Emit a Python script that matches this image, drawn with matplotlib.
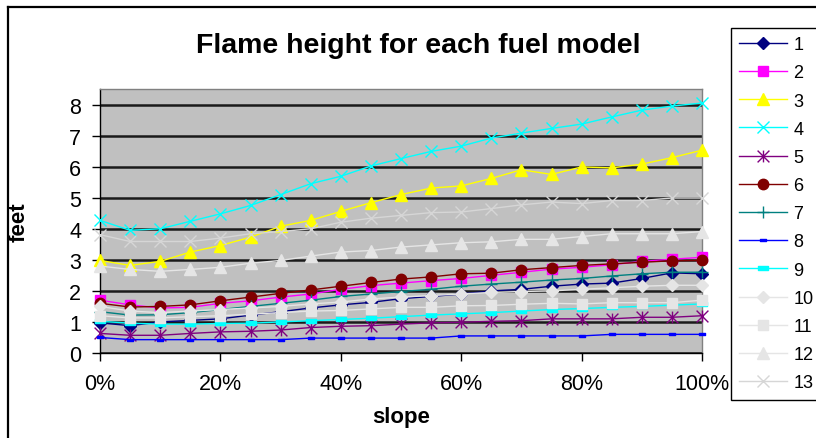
import matplotlib
matplotlib.use("Agg")
import matplotlib.pyplot as plt
from matplotlib.lines import Line2D
from matplotlib.path import Path
import numpy as np

plt.rcParams["font.family"] = ["Liberation Sans", "DejaVu Sans"]

# slope steps (percent)
slope_pct = list(range(0, 101, 5))
x_tick_values = [0, 20, 40, 60, 80, 100]
x_tick_labels = ["0%", "20%", "40%", "60%", "80%", "100%"]
y_ticks = [0, 1, 2, 3, 4, 5, 6, 7, 8]

# flame height (feet) for fuel models 1-13
fm1 = [0.97, 0.88, 1.00, 1.05, 1.10, 1.22, 1.33, 1.45, 1.55, 1.63, 1.75,
       1.82, 1.90, 2.00, 2.05, 2.15, 2.22, 2.25, 2.40, 2.58, 2.55]
fm2 = [1.70, 1.55, 1.45, 1.47, 1.60, 1.68, 1.80, 1.90, 2.05, 2.17, 2.25,
       2.33, 2.40, 2.50, 2.60, 2.70, 2.76, 2.84, 2.95, 3.02, 3.08]
fm3 = [2.98, 2.82, 2.95, 3.25, 3.46, 3.73, 4.08, 4.27, 4.56, 4.84, 5.10,
       5.31, 5.38, 5.62, 5.90, 5.75, 5.99, 5.96, 6.08, 6.29, 6.53]
fm4 = [4.27, 3.95, 4.00, 4.24, 4.48, 4.75, 5.10, 5.45, 5.69, 6.02, 6.26,
       6.49, 6.66, 6.92, 7.08, 7.23, 7.37, 7.60, 7.82, 7.95, 8.05]
fm5 = [0.63, 0.57, 0.57, 0.63, 0.68, 0.70, 0.74, 0.82, 0.86, 0.88, 0.93,
       0.97, 0.99, 1.02, 1.04, 1.10, 1.10, 1.10, 1.15, 1.15, 1.20]
fm6 = [1.60, 1.48, 1.50, 1.55, 1.68, 1.80, 1.92, 2.03, 2.15, 2.27, 2.38,
       2.45, 2.55, 2.57, 2.68, 2.75, 2.82, 2.87, 2.92, 2.97, 2.98]
fm7 = [1.33, 1.22, 1.23, 1.30, 1.40, 1.50, 1.60, 1.70, 1.82, 1.90, 1.98,
       2.05, 2.15, 2.22, 2.28, 2.35, 2.40, 2.48, 2.55, 2.60, 2.60]
fm8 = [0.50, 0.43, 0.43, 0.43, 0.43, 0.43, 0.43, 0.48, 0.48, 0.48, 0.48,
       0.48, 0.55, 0.55, 0.55, 0.55, 0.55, 0.60, 0.60, 0.60, 0.60]
fm9 = [1.02, 0.96, 0.93, 0.93, 0.95, 0.96, 1.00, 1.04, 1.08, 1.12, 1.17,
       1.22, 1.26, 1.30, 1.35, 1.40, 1.43, 1.47, 1.50, 1.54, 1.58]
fm10 = [1.50, 1.35, 1.30, 1.35, 1.40, 1.45, 1.50, 1.58, 1.64, 1.74, 1.80,
        1.85, 1.90, 1.95, 1.98, 2.00, 2.05, 2.10, 2.15, 2.18, 2.18]
fm11 = [1.20, 1.13, 1.13, 1.17, 1.20, 1.25, 1.30, 1.35, 1.37, 1.42, 1.47,
        1.47, 1.52, 1.53, 1.57, 1.60, 1.58, 1.62, 1.62, 1.62, 1.70]
fm12 = [2.80, 2.69, 2.63, 2.69, 2.76, 2.89, 2.98, 3.12, 3.25, 3.30, 3.41,
        3.48, 3.55, 3.58, 3.66, 3.66, 3.75, 3.84, 3.84, 3.84, 3.91]
fm13 = [3.81, 3.59, 3.59, 3.59, 3.70, 3.84, 3.91, 4.00, 4.21, 4.34, 4.43,
        4.52, 4.54, 4.65, 4.77, 4.86, 4.81, 4.91, 4.91, 4.99, 4.99]

series_names = ["1", "2", "3", "4", "5", "6", "7", "8", "9", "10", "11", "12", "13"]
series_values = [fm1, fm2, fm3, fm4, fm5, fm6, fm7, fm8, fm9, fm10, fm11, fm12, fm13]

# marker shapes
star = Path([(0, -1), (0, 1), (-1, -1), (1, 1), (-1, 1), (1, -1)],
            [Path.MOVETO, Path.LINETO, Path.MOVETO, Path.LINETO, Path.MOVETO, Path.LINETO])
bar = Path([(-1, -0.45), (1, -0.45), (1, 0.45), (-1, 0.45), (-1, -0.45)],
           [Path.MOVETO, Path.LINETO, Path.LINETO, Path.LINETO, Path.CLOSEPOLY])

styles = [
    dict(color="#000080", marker="D", ms=6.0),
    dict(color="#FF00FF", marker="s", ms=6.5),
    dict(color="#FFFF00", marker="^", ms=9.0),
    dict(color="#00FFFF", marker="x", ms=8.0, mew=1.0),
    dict(color="#800080", marker=star, ms=8.5, mew=1.0),
    dict(color="#800000", marker="o", ms=7.5),
    dict(color="#008080", marker="+", ms=8.0, mew=1.0),
    dict(color="#0000FF", marker=bar, ms=4.5),
    dict(color="#00FFFF", marker=bar, ms=6.5),
    dict(color="#E5E5E5", marker="D", ms=6.0),
    dict(color="#E5E5E5", marker="s", ms=6.5),
    dict(color="#E5E5E5", marker="^", ms=9.0),
    dict(color="#D6D6D6", marker="x", ms=8.0, mew=1.0),
]

W, H = 816, 439
fig = plt.figure(figsize=(W / 100, H / 100), dpi=100)
fig.patch.set_facecolor("white")

ax = fig.add_axes([100 / W, 1 - 354 / H, 602 / W, 264 / H])
ax.set_facecolor("#C0C0C0")

x = np.array(slope_pct) / 100.0
for i, (name, vals, st) in enumerate(zip(series_names, series_values, styles)):
    st = dict(st)
    c = st.pop("color")
    ax.plot(x, vals, color=c, mfc=c, mec=c, lw=1.0, label=name,
            clip_on=False, zorder=3 + i, **st)

ax.set_xlim(0, 1)
ax.set_ylim(0, 8.5)
ax.set_xticks(np.array(x_tick_values) / 100.0)
ax.set_xticklabels(x_tick_labels)
ax.set_yticks(y_ticks)
ax.set_yticklabels([str(v) for v in y_ticks])
ax.yaxis.grid(True, color="#1a1a1a", lw=1.8)
ax.set_axisbelow(True)

for side in ("top", "right"):
    ax.spines[side].set_color("#808080")
    ax.spines[side].set_linewidth(1.0)
for side in ("left", "bottom"):
    ax.spines[side].set_color("black")
    ax.spines[side].set_linewidth(1.0)

ax.tick_params(axis="both", direction="out", length=5.5, width=1.0,
               labelsize=15.5, color="black")
ax.tick_params(axis="x", pad=9)
ax.tick_params(axis="y", pad=8)

fig.text(418 / W, 1 - 46 / H, "Flame height for each fuel model",
         ha="center", va="center", fontsize=20.5, fontweight="bold")
fig.text(401 / W, 1 - 418 / H, "slope", ha="center", va="center",
         fontsize=16, fontweight="bold")
fig.text(19 / W, 1 - 222 / H, "feet", ha="center", va="center",
         rotation=90, fontsize=16, fontweight="bold")

handles, labels = ax.get_legend_handles_labels()
leg = fig.legend(handles, labels, loc="upper left",
                 bbox_to_anchor=(731 / W, 1 - 29 / H), frameon=True,
                 fancybox=False, edgecolor="black", framealpha=1,
                 fontsize=13, handlelength=2.65, handletextpad=0.35,
                 labelspacing=0.62, borderpad=0.45, borderaxespad=0,
                 numpoints=1)
leg.get_frame().set_linewidth(1.0)

# chart area border
fig.add_artist(Line2D([8 / W, 8 / W], [1 - 8 / H, -0.05], color="black",
                      lw=1.6, transform=fig.transFigure))
fig.add_artist(Line2D([8 / W, 1.05], [1 - 8 / H, 1 - 8 / H], color="black",
                      lw=1.6, transform=fig.transFigure))

fig.savefig("out.png", dpi=100)
